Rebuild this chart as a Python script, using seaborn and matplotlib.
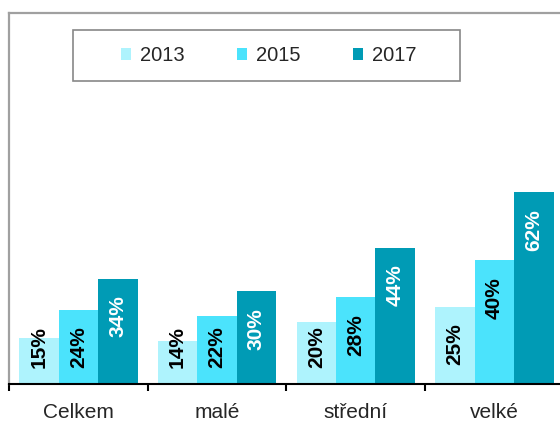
import matplotlib
matplotlib.use("Agg")
import matplotlib.pyplot as plt
import seaborn as sns
import pandas as pd
from matplotlib.patches import Rectangle

categories = ["Celkem", "malé", "střední", "velké"]
years = ["2013", "2015", "2017"]
v2013 = [15, 14, 20, 25]
v2015 = [24, 22, 28, 40]
v2017 = [34, 30, 44, 62]
colors = ["#AEF3FD", "#4BE3FC", "#009BB5"]
label_colors = ["black", "black", "white"]

rows = []
for yr, vals in zip(years, [v2013, v2015, v2017]):
    for c, v in zip(categories, vals):
        rows.append({"cat": c, "year": yr, "val": v})
df = pd.DataFrame(rows)

sns.set_theme(style="white")
plt.rcParams["font.family"] = ["Liberation Sans", "DejaVu Sans"]

fig = plt.figure(figsize=(5.6, 4.21), dpi=100)
W, H = 560, 421
ax = fig.add_axes([9 / W, (H - 384) / H, (563.8 - 9) / W, (384 - 13) / H])

sns.barplot(data=df, x="cat", y="val", hue="year", order=categories,
            hue_order=years, palette=colors, width=0.853, saturation=1,
            edgecolor="none", linewidth=0, ax=ax, legend=False)

ax.set_xlim(-0.5, 3.5)
ax.set_ylim(0, 120)
ax.set_xlabel("")
ax.set_ylabel("")
ax.set_yticks([])

# boundary ticks
ax.set_xticks([-0.5, 0.5, 1.5, 2.5, 3.5], minor=False)
ax.set_xticklabels([])
ax.set_xticks(range(len(categories)), minor=True)
ax.set_xticklabels(categories, minor=True, fontsize=15)
ax.tick_params(axis="x", which="major", direction="out", length=5, width=1.5,
               color="black", bottom=True)
ax.tick_params(axis="x", which="minor", length=0, pad=14, bottom=True)

for s in ["left", "top"]:
    ax.spines[s].set_color("#A0A0A0")
    ax.spines[s].set_linewidth(1.6)
ax.spines["right"].set_visible(False)
ax.spines["bottom"].set_color("black")
ax.spines["bottom"].set_linewidth(1.5)
ax.spines["bottom"].set_zorder(5)

# bar labels
ppu = (384 - 13) / 120.0
top_off = 16.5 / ppu
bot_off = 16.0 / ppu
lab_len = 41.0 / ppu
for cont, lc in zip(ax.containers, label_colors):
    for p in cont.patches:
        v = p.get_height()
        xc = p.get_x() + p.get_width() / 2
        if v - top_off - lab_len >= bot_off:
            ax.text(xc, v - top_off, f"{int(round(v))}%", rotation=90,
                    ha="center", va="top", fontsize=15, fontweight="bold",
                    color=lc)
        else:
            ax.text(xc, bot_off, f"{int(round(v))}%", rotation=90,
                    ha="center", va="bottom", fontsize=15, fontweight="bold",
                    color=lc)

# legend
handles = [Rectangle((0, 0), 1, 1, facecolor=c, edgecolor="none") for c in colors]
fig.legend(handles, years, loc="center", bbox_to_anchor=(269 / W, 1 - 55.5 / H),
           ncol=3, frameon=False, fontsize=14.5, handlelength=0.5,
           handleheight=0.5, handletextpad=0.45, columnspacing=2.6)
fig.patches.append(Rectangle((73 / W, 1 - 81 / H), (460 - 73) / W, 51 / H,
                             transform=fig.transFigure, fill=False,
                             edgecolor="#888888", linewidth=1.2))

fig.savefig("out.png", dpi=100)
